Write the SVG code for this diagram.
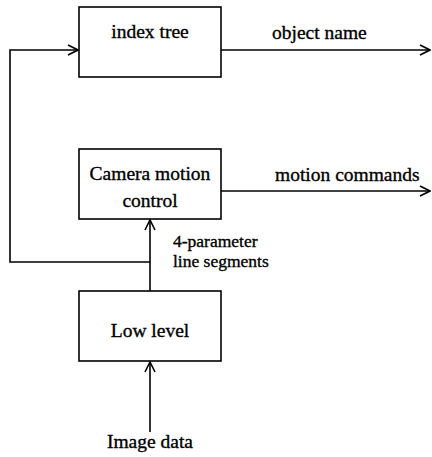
<svg xmlns="http://www.w3.org/2000/svg" width="432" height="457" viewBox="0 0 432 457">
  <defs>
    <marker id="arrow" viewBox="0 0 12 12" refX="11" refY="6" markerWidth="12" markerHeight="12" markerUnits="userSpaceOnUse" orient="auto">
      <path d="M1,1 L11,6 L1,11" fill="none" stroke="#000" stroke-width="1.6"/>
    </marker>
  </defs>
  <style>
    .box { fill: #fff; stroke: #000; stroke-width: 1.6; }
    .line { fill: none; stroke: #000; stroke-width: 1.6; }
    .t { font-family: 'Liberation Serif', 'DejaVu Serif', serif; font-size: 19.5px; fill: #000; stroke: #000; stroke-width: 0.35; }
    .small { font-size: 17.5px; }
    .mid { text-anchor: middle; }
  </style>
  <rect width="432" height="457" fill="#fff"/>

  <g id="connectors">
    <!-- feedback loop from line segments back into the index tree -->
    <polyline class="line" points="150,262 10,262 10,50 78,50" marker-end="url(#arrow)"/>
    <line class="line" x1="221" y1="50" x2="430" y2="50" marker-end="url(#arrow)"/>
    <line class="line" x1="221" y1="191" x2="430" y2="191" marker-end="url(#arrow)"/>
    <line class="line" x1="150" y1="291" x2="150" y2="220" marker-end="url(#arrow)"/>
    <line class="line" x1="150" y1="432" x2="150" y2="362" marker-end="url(#arrow)"/>
    <text class="t" x="272" y="39">object name</text>
    <text class="t" x="275" y="181">motion commands</text>
    <text class="t small" x="173" y="247">4-parameter</text>
    <text class="t small" x="173" y="267">line segments</text>
    <text class="t mid" x="150" y="448">Image data</text>
  </g>

  <g id="index-tree">
    <rect class="box" x="79" y="7" width="142" height="70"/>
    <text class="t mid" x="150" y="38">index tree</text>
  </g>

  <g id="camera-motion-control">
    <rect class="box" x="79" y="149" width="142" height="70"/>
    <text class="t mid" x="150" y="180">Camera motion</text>
    <text class="t mid" x="150" y="207">control</text>
  </g>

  <g id="low-level">
    <rect class="box" x="79" y="291" width="142" height="70"/>
    <text class="t mid" x="150" y="337">Low level</text>
  </g>
</svg>
